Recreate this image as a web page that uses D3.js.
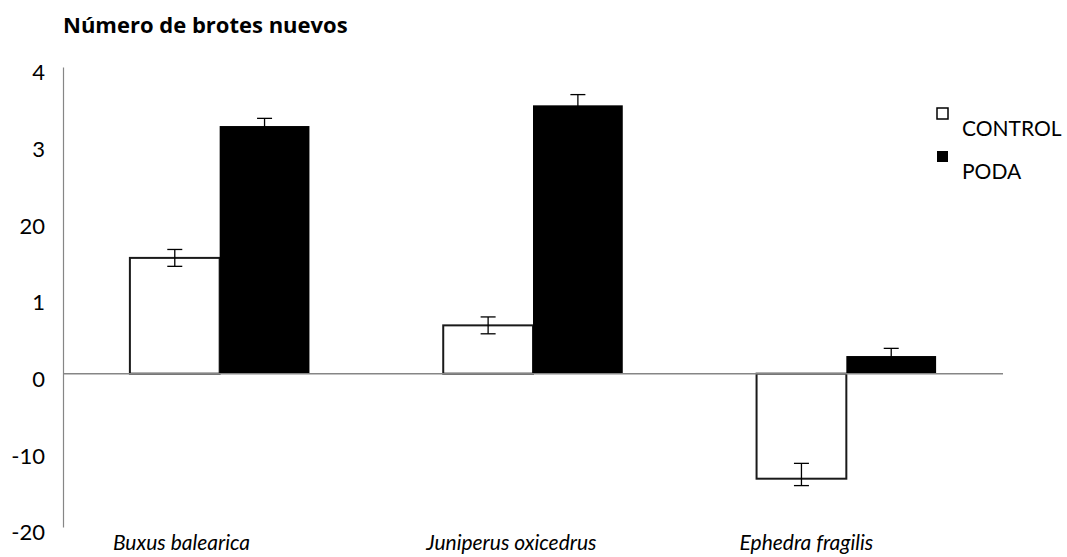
<!DOCTYPE html>
<html>
<head>
<meta charset="utf-8">
<script src="https://cdn.jsdelivr.net/npm/d3@7/dist/d3.min.js"></script>
<style>
  html, body { margin: 0; padding: 0; background: #fff; }
  svg { display: block; font-family: Lato, "Open Sans", sans-serif; }
</style>
</head>
<body>
<svg id="chart" width="1067" height="557"></svg>
<script>
// ---- data ----
const categories = ["Buxus balearica", "Juniperus oxicedrus", "Ephedra fragilis"];
const seriesNames = ["CONTROL", "PODA"];
const controlValues = [15.1, 6.3, -13.7];
const podaValues = [32.3, 35.0, 2.3];
const controlErrPlus = [1.1, 1.1, 2.0];
const controlErrMinus = [1.1, 1.1, 0.9];
const podaErrPlus = [1.0, 1.4, 1.0];
const podaErrMinus = [1.0, 1.4, 1.0];
const tickValues = [40, 30, 20, 10, 0, -10, -20];
const tickLabels = ["4", "3", "20", "1", "0", "-10", "-20"];
const titleText = "Número de brotes nuevos";

// ---- layout ----
const svg = d3.select("#chart");
const mLeft = 63, mRight = 1003, mTop = 67, mBottom = 527;

const y = d3.scaleLinear().domain([-20, 40]).range([mBottom, mTop]);
const x0 = d3.scaleBand().domain(categories).range([mLeft, mRight]).paddingInner(0.427).paddingOuter(0.2135);
const x1 = d3.scaleBand().domain(seriesNames).range([0, x0.bandwidth()]);

const rows = categories.map((c, i) => ([
  { cat: c, s: "CONTROL", v: controlValues[i], ep: controlErrPlus[i], em: controlErrMinus[i] },
  { cat: c, s: "PODA", v: podaValues[i], ep: podaErrPlus[i], em: podaErrMinus[i] }
])).flat();

// title
svg.append("text")
  .attr("x", mLeft).attr("y", 33)
  .attr("font-family", "'Open Sans', sans-serif")
  .attr("font-weight", "bold").attr("font-size", 22)
  .attr("fill", "#000")
  .text(titleText);

// y axis
const yAxis = d3.axisLeft(y)
  .tickValues(tickValues)
  .tickFormat((d, i) => tickLabels[i])
  .tickSize(0).tickPadding(18);
const gy = svg.append("g").attr("transform", `translate(${mLeft},0)`).call(yAxis);
gy.select(".domain").attr("stroke", "#868686").attr("stroke-width", 1.2);
gy.selectAll("text").attr("font-size", 22).attr("font-family", "Lato, sans-serif")
  .attr("fill", "#000").attr("dy", "0.58em");

// bars
const g = svg.append("g");
g.selectAll("rect.bar").data(rows).join("rect")
  .attr("class", "bar")
  .attr("x", d => x0(d.cat) + x1(d.s))
  .attr("width", x1.bandwidth())
  .attr("y", d => y(Math.max(0, d.v)))
  .attr("height", d => Math.abs(y(d.v) - y(0)))
  .attr("fill", d => d.s === "CONTROL" ? "#fff" : "#000")
  .attr("stroke", d => d.s === "CONTROL" ? "#1a1a1a" : "none")
  .attr("stroke-width", 2);

// zero line
svg.append("line")
  .attr("x1", mLeft).attr("x2", mRight)
  .attr("y1", y(0)).attr("y2", y(0))
  .attr("stroke", "#868686").attr("stroke-width", 1.5);

// error bars
const cap = 7.5;
const eb = svg.append("g").attr("stroke", "#000").attr("stroke-width", 1.3);
rows.forEach(d => {
  const cx = x0(d.cat) + x1(d.s) + x1.bandwidth() / 2;
  const yHi = y(d.v + d.ep), yLo = y(d.v - d.em);
  eb.append("line").attr("x1", cx).attr("x2", cx).attr("y1", yHi).attr("y2", yLo);
  eb.append("line").attr("x1", cx - cap).attr("x2", cx + cap).attr("y1", yHi).attr("y2", yHi);
  eb.append("line").attr("x1", cx - cap).attr("x2", cx + cap).attr("y1", yLo).attr("y2", yLo);
});

// category labels
svg.append("g").selectAll("text").data(categories).join("text")
  .attr("x", d => x0(d) - 17)
  .attr("y", 550)
  .attr("font-style", "italic").attr("font-size", 21)
  .attr("fill", "#000")
  .text(d => d);

// legend
const legend = svg.append("g");
seriesNames.forEach((s, i) => {
  const ly = 108 + i * 43;
  legend.append("rect")
    .attr("x", 937).attr("y", ly).attr("width", 11).attr("height", 11)
    .attr("fill", s === "CONTROL" ? "#fff" : "#000")
    .attr("stroke", "#000").attr("stroke-width", s === "CONTROL" ? 1.5 : 0);
  legend.append("text")
    .attr("x", 962).attr("y", ly + 28)
    .attr("font-size", 21).attr("fill", "#000")
    .text(s);
});
</script>
</body>
</html>
